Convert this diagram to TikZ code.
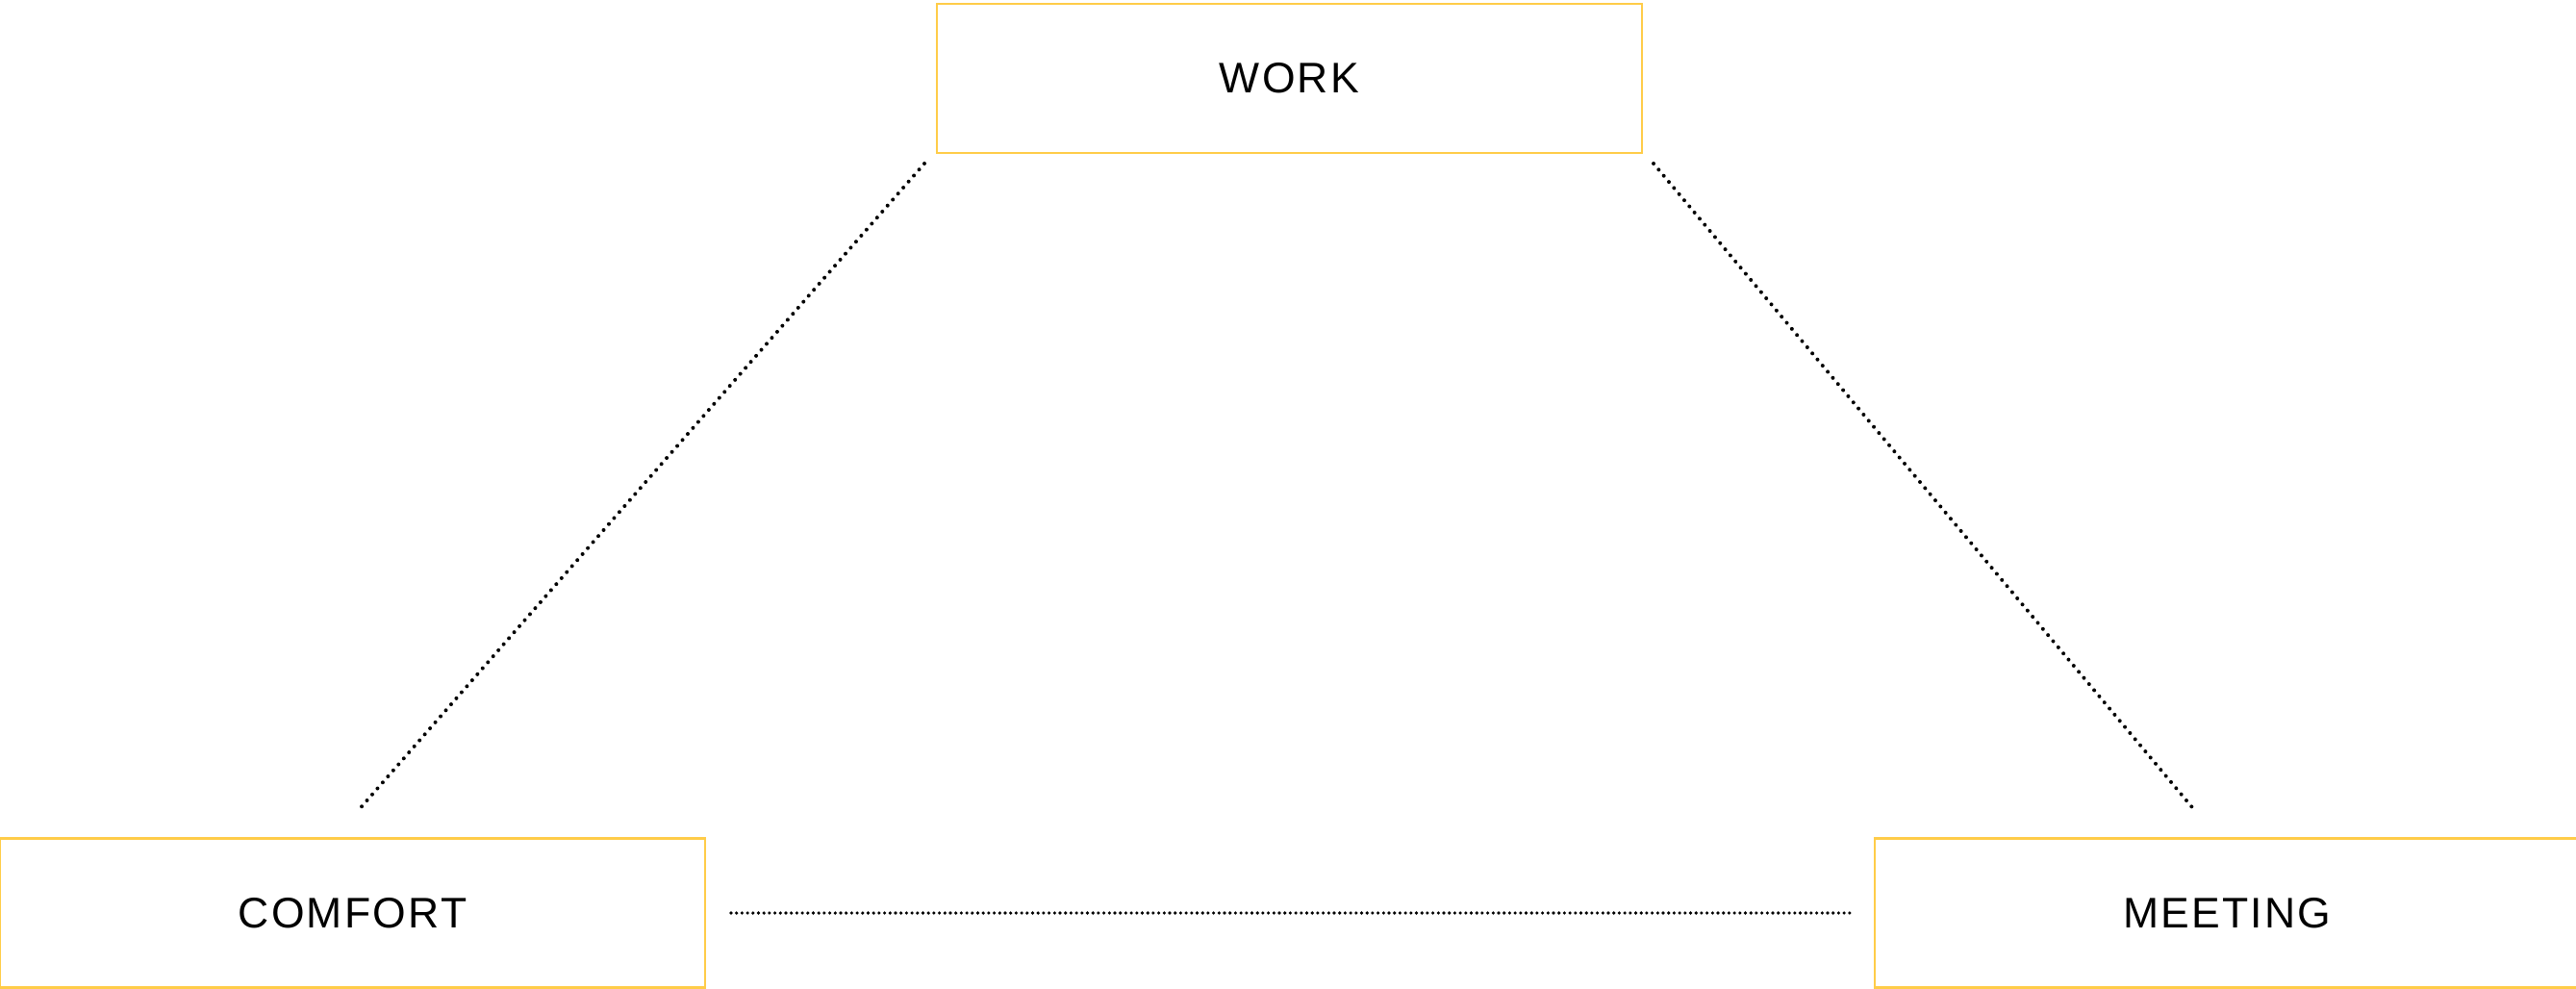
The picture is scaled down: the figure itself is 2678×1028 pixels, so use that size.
\documentclass[tikz,border=0pt]{standalone}
\usepackage{fontspec}
\newfontfamily\lblfont[LetterSpace=5]{Liberation Sans}
\definecolor{boxyellow}{RGB}{255,204,72}
\begin{document}
\begin{tikzpicture}[x=1pt,y=-1pt,
  box/.style={draw=boxyellow,line width=2.5pt,rectangle,minimum width=733pt,minimum height=155pt,inner sep=0pt,font=\lblfont\fontsize{44.5}{50}\selectfont},
  dotline/.style={line width=4pt,line cap=round,dash pattern=on 0pt off 8.3pt},
  hdotline/.style={line width=3.6pt,line cap=round,dash pattern=on 0pt off 5.7pt}]
\useasboundingbox (0,0) rectangle (2678,1028);
\node[box] (work) at (1340.5,81.5) {WORK};
\node[box] (comfort) at (366.5,949) {COMFORT};
\node[box] (meeting) at (2315.5,949) {MEETING};
\coordinate (wl) at (961,170);
\coordinate (wr) at (1719,170);
\coordinate (cl) at (371,844);
\coordinate (mr) at (2283,844);
\coordinate (ch) at (760,949);
\coordinate (mh) at (1926,949);
\draw[dotline] (wl) -- (cl);
\draw[dotline] (wr) -- (mr);
\draw[hdotline] (ch) -- (mh);
\end{tikzpicture}
\end{document}
